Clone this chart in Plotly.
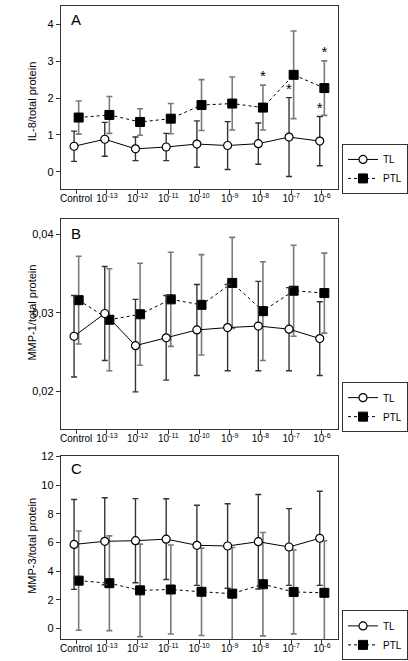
import plotly.graph_objects as go

# ---------------- data ----------------
categories = ["Control", "10<sup>-13</sup>", "10<sup>-12</sup>", "10<sup>-11</sup>",
              "10<sup>-10</sup>", "10<sup>-9</sup>", "10<sup>-8</sup>", "10<sup>-7</sup>",
              "10<sup>-6</sup>"]

il8_tl = [0.69, 0.88, 0.62, 0.67, 0.75, 0.71, 0.76, 0.94, 0.83]
il8_tl_err = [0.41, 0.46, 0.32, 0.37, 0.63, 0.65, 0.56, 1.07, 0.67]
il8_ptl = [1.47, 1.54, 1.35, 1.44, 1.81, 1.85, 1.74, 2.63, 2.27]
il8_ptl_err = [0.45, 0.50, 0.36, 0.41, 0.69, 0.72, 0.61, 1.19, 0.74]

mmp1_tl = [0.0270, 0.0299, 0.0258, 0.0268, 0.0278, 0.0281, 0.0283, 0.0279, 0.0267]
mmp1_tl_err = [0.0052, 0.0060, 0.0059, 0.0054, 0.0058, 0.0055, 0.0057, 0.0053, 0.0047]
mmp1_ptl = [0.0316, 0.0291, 0.0298, 0.0317, 0.0310, 0.0338, 0.0302, 0.0328, 0.0325]
mmp1_ptl_err = [0.0056, 0.0065, 0.0065, 0.0060, 0.0064, 0.0058, 0.0063, 0.0058, 0.0051]

mmp3_tl = [5.86, 6.08, 6.12, 6.23, 5.80, 5.75, 6.05, 5.68, 6.29]
mmp3_tl_err = [3.14, 3.04, 2.94, 2.82, 2.80, 2.95, 3.30, 2.68, 3.29]
mmp3_ptl = [3.33, 3.15, 2.65, 2.71, 2.55, 2.42, 3.08, 2.54, 2.48]
mmp3_ptl_err = [3.47, 3.31, 3.23, 3.11, 3.05, 3.23, 3.61, 2.93, 3.64]

# significance markers in panel A (category indices)
il8_star_ptl_idx = [6, 8]
il8_star_tl_idx = [7, 8]

panels = [
    ("A", "IL-8/total protein", il8_tl, il8_tl_err, il8_ptl, il8_ptl_err,
     [-0.46, 4.5], [0, 1, 2, 3, 4], None),
    ("B", "MMP-1/total protein", mmp1_tl, mmp1_tl_err, mmp1_ptl, mmp1_ptl_err,
     [0.0152, 0.0419], [0.02, 0.03, 0.04], ".2f"),
    ("C", "MMP-3/total protein", mmp3_tl, mmp3_tl_err, mmp3_ptl, mmp3_ptl_err,
     [-0.76, 12.07], [0, 2, 4, 6, 8, 10, 12], None),
]

# ---------------- layout constants ----------------
W, H = 408, 661
FONT = "Liberation Sans, Arial, sans-serif"
x_dom = [60 / W, 338 / W]
y_doms = [[1 - 185 / H, 1 - 1 / H], [1 - 427 / H, 1 - 216 / H], [1 - 639 / H, 1 - 454 / H]]
legend_tops = [1 - 140 / H, 1 - 380 / H, 1 - 610 / H]
title_y_px = [97, 310, 545]
dx_tl, dx_ptl = -0.07, 0.08

fig = go.Figure()
idx = list(range(len(categories)))

for p, (letter, ytitle, tl, tle, ptl, ptle, yr, ytv, yfmt) in enumerate(panels):
    sfx = "" if p == 0 else str(p + 1)
    xa, ya = "x" + sfx, "y" + sfx
    leg = "legend" + sfx
    x_tl = [i + dx_tl for i in idx]
    x_ptl = [i + dx_ptl for i in idx]

    fig.add_trace(go.Scatter(
        x=x_ptl, y=ptl, xaxis=xa, yaxis=ya, name="PTL", legend=leg,
        mode="lines+markers",
        line=dict(color="black", width=1, dash="dot"),
        marker=dict(symbol="square", size=9, color="black", line=dict(color="black", width=1)),
        error_y=dict(type="data", array=ptle, visible=True, color="#7a7a7a", thickness=1.6, width=3),
        legendrank=2,
    ))
    fig.add_trace(go.Scatter(
        x=x_tl, y=tl, xaxis=xa, yaxis=ya, name="TL", legend=leg,
        mode="lines+markers",
        line=dict(color="black", width=1),
        marker=dict(symbol="circle", size=8, color="white", line=dict(color="black", width=1.2)),
        error_y=dict(type="data", array=tle, visible=True, color="#333333", thickness=1.4, width=3),
        legendrank=1,
    ))

    if p == 0:
        sx = [i + dx_ptl for i in il8_star_ptl_idx] + [i + dx_tl for i in il8_star_tl_idx]
        sy = [ptl[i] + ptle[i] for i in il8_star_ptl_idx] + [tl[i] + tle[i] for i in il8_star_tl_idx]
        fig.add_trace(go.Scatter(
            x=sx, y=sy, xaxis=xa, yaxis=ya, mode="text", text=["*"] * len(sx),
            textposition="top center", textfont=dict(family=FONT, size=15, color="black"),
            showlegend=False, hoverinfo="skip",
        ))

    axis_common = dict(showline=True, linecolor="#333333", linewidth=1.2, mirror=True,
                       showgrid=False, zeroline=False, ticks="outside", ticklen=4,
                       tickcolor="#333333")
    fig.update_layout(**{
        ("xaxis" + sfx): dict(domain=x_dom, anchor=ya, range=[-0.5, 8.53], tickangle=0,
                              tickvals=idx, ticktext=categories, ticklabelstandoff=-4,
                              tickfont=dict(family=FONT, size=10, color="black"), **axis_common),
        ("yaxis" + sfx): dict(domain=y_doms[p], anchor=xa, range=yr, tickvals=ytv,
                              tickformat=yfmt,
                              tickfont=dict(family=FONT, size=11, color="black"), **axis_common),
        leg: dict(x=342 / W, xanchor="left", y=legend_tops[p], yanchor="top",
                  bgcolor="white", bordercolor="#333333", borderwidth=1,
                  font=dict(family=FONT, size=10, color="black"),
                  itemwidth=30, tracegroupgap=0, traceorder="normal"),
    })

    fig.add_annotation(x=0.03, y=0.985, xref=xa + " domain", yref=ya + " domain",
                       text=letter, showarrow=False, xanchor="left", yanchor="top",
                       font=dict(family=FONT, size=15, color="black"))
    fig.add_annotation(x=31 / W, y=1 - title_y_px[p] / H, xref="paper", yref="paper",
                       text=ytitle, textangle=-90, showarrow=False,
                       xanchor="center", yanchor="middle",
                       font=dict(family=FONT, size=11, color="black"))

fig.update_layout(
    width=W, height=H, margin=dict(l=0, r=0, t=0, b=0),
    paper_bgcolor="white", plot_bgcolor="white",
    separators=", ", showlegend=True, hovermode=False,
    font=dict(family=FONT, size=11, color="black"),
)

fig.write_html(
    "out.html",
    config={"displayModeBar": False},
    post_script="document.body.style.margin='0';document.body.style.padding='0';"
                "document.documentElement.style.overflow='hidden';",
)
